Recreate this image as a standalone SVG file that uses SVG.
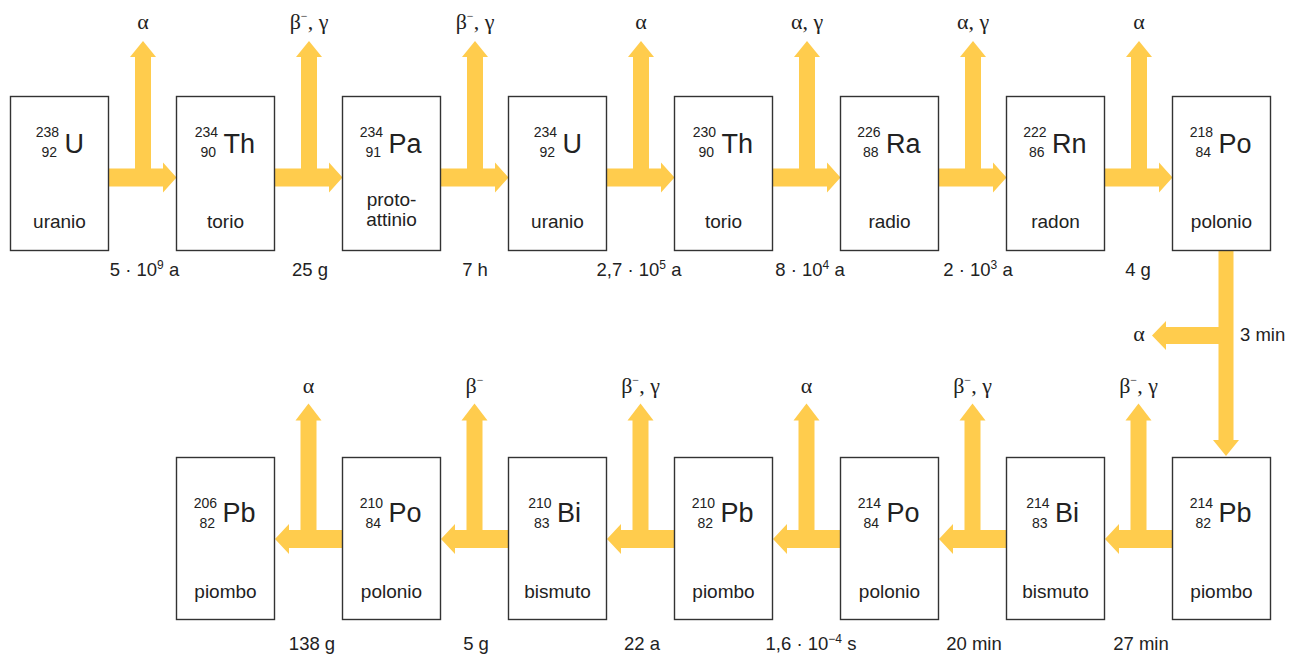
<svg xmlns="http://www.w3.org/2000/svg" xmlns:xlink="http://www.w3.org/1999/xlink" width="1290" height="656" viewBox="0 0 1290 656">
<style>
.box{fill:#fff;stroke:#333;stroke-width:1.4}
.arr{fill:#FFCC4D}
text{font-family:"Liberation Sans",Arial,sans-serif;fill:#222}
.sym{font-size:27px}
.num{font-size:14px;text-anchor:end}
.name{font-size:19px;text-anchor:middle}
.hl{font-size:18.5px;text-anchor:middle}
.gk{font-family:"Liberation Serif","Times New Roman",serif;font-size:22px;text-anchor:middle}
.sup{font-size:12px}
.supm{font-size:12px}
</style>
<defs>
<path id="tR" d="M0,168.5 H26 V57 H21 L34,41 L47,57 H42 V168.5 H54 V162.5 L67.5,177.5 L54,192.5 V186.5 H0 Z"/>
<path id="tL" d="M0.5,539 L14.5,524 V530 H26 V420.5 H21 L34,403.5 L47,420.5 H42 V530 H68 V548 H14.5 V554 Z"/>
</defs>
<g id="connectors" class="arr">
<use xlink:href="#tR" x="109"/>
<use xlink:href="#tR" x="275"/>
<use xlink:href="#tR" x="441"/>
<use xlink:href="#tR" x="607"/>
<use xlink:href="#tR" x="773"/>
<use xlink:href="#tR" x="939"/>
<use xlink:href="#tR" x="1105"/>
<path d="M1218.5,251 H1233.5 V440 H1239 L1226,456 L1213,440 H1218.5 V344 H1166 V350 L1152,335.5 L1166,321 V327 H1218.5 Z"/>
<use xlink:href="#tL" x="274.5"/>
<use xlink:href="#tL" x="440.5"/>
<use xlink:href="#tL" x="606.5"/>
<use xlink:href="#tL" x="772.5"/>
<use xlink:href="#tL" x="938.5"/>
<use xlink:href="#tL" x="1104.5"/>
</g>
<g id="labels">
<text class="gk" x="143" y="29">α</text>
<text class="gk" x="309" y="29">β<tspan class="supm" dy="-9">−</tspan><tspan dy="9">, γ</tspan></text>
<text class="gk" x="475" y="29">β<tspan class="supm" dy="-9">−</tspan><tspan dy="9">, γ</tspan></text>
<text class="gk" x="641" y="29">α</text>
<text class="gk" x="807" y="29">α, γ</text>
<text class="gk" x="973" y="29">α, γ</text>
<text class="gk" x="1139" y="29">α</text>
<text class="hl" x="144.5" y="276">5 · 10<tspan class="sup" dy="-7">9</tspan><tspan dy="7"> a</tspan></text>
<text class="hl" x="310" y="276">25 g</text>
<text class="hl" x="475" y="276">7 h</text>
<text class="hl" x="639" y="276">2,7 · 10<tspan class="sup" dy="-7">5</tspan><tspan dy="7"> a</tspan></text>
<text class="hl" x="810" y="276">8 · 10<tspan class="sup" dy="-7">4</tspan><tspan dy="7"> a</tspan></text>
<text class="hl" x="978" y="276">2 · 10<tspan class="sup" dy="-7">3</tspan><tspan dy="7"> a</tspan></text>
<text class="hl" x="1138" y="276">4 g</text>
<text class="gk" x="1139" y="341">α</text>
<text class="hl" x="1240" y="341" style="text-anchor:start">3 min</text>
<text class="gk" x="308.5" y="393">α</text>
<text class="gk" x="474.5" y="393">β<tspan class="supm" dy="-9">−</tspan></text>
<text class="gk" x="640.5" y="393">β<tspan class="supm" dy="-9">−</tspan><tspan dy="9">, γ</tspan></text>
<text class="gk" x="806.5" y="393">α</text>
<text class="gk" x="972.5" y="393">β<tspan class="supm" dy="-9">−</tspan><tspan dy="9">, γ</tspan></text>
<text class="gk" x="1138.5" y="393">β<tspan class="supm" dy="-9">−</tspan><tspan dy="9">, γ</tspan></text>
<text class="hl" x="312" y="650">138 g</text>
<text class="hl" x="476" y="650">5 g</text>
<text class="hl" x="642" y="650">22 a</text>
<text class="hl" x="811" y="650">1,6 · 10<tspan class="sup" dy="-7">−4</tspan><tspan dy="7"> s</tspan></text>
<text class="hl" x="974" y="650">20 min</text>
<text class="hl" x="1141" y="650">27 min</text>
</g>
<g id="n-U238"><rect class="box" x="10.5" y="96.5" width="98" height="154"/><text class="num" x="59" y="137">238</text><text class="num" x="57" y="156.5">92</text><text class="sym" x="64.5" y="152.7">U</text><text class="name" x="59.5" y="227.7">uranio</text></g>
<g id="n-Th234"><rect class="box" x="176.5" y="96.5" width="98" height="154"/><text class="num" x="218" y="137">234</text><text class="num" x="216" y="156.5">90</text><text class="sym" x="223.5" y="152.7">Th</text><text class="name" x="225.5" y="227.7">torio</text></g>
<g id="n-Pa234"><rect class="box" x="342.5" y="96.5" width="98" height="154"/><text class="num" x="383" y="137">234</text><text class="num" x="381" y="156.5">91</text><text class="sym" x="388.5" y="152.7">Pa</text><text class="name" x="391.5" y="206">proto-</text><text class="name" x="391.5" y="226">attinio</text></g>
<g id="n-U234"><rect class="box" x="508.5" y="96.5" width="98" height="154"/><text class="num" x="557" y="137">234</text><text class="num" x="555" y="156.5">92</text><text class="sym" x="562.5" y="152.7">U</text><text class="name" x="557.5" y="227.7">uranio</text></g>
<g id="n-Th230"><rect class="box" x="674.5" y="96.5" width="98" height="154"/><text class="num" x="716" y="137">230</text><text class="num" x="714" y="156.5">90</text><text class="sym" x="721.5" y="152.7">Th</text><text class="name" x="723.5" y="227.7">torio</text></g>
<g id="n-Ra226"><rect class="box" x="840.5" y="96.5" width="98" height="154"/><text class="num" x="880.5" y="137">226</text><text class="num" x="878.5" y="156.5">88</text><text class="sym" x="886" y="152.7">Ra</text><text class="name" x="889.5" y="227.7">radio</text></g>
<g id="n-Rn222"><rect class="box" x="1006.5" y="96.5" width="98" height="154"/><text class="num" x="1046.5" y="137">222</text><text class="num" x="1044.5" y="156.5">86</text><text class="sym" x="1052" y="152.7">Rn</text><text class="name" x="1055.5" y="227.7">radon</text></g>
<g id="n-Po218"><rect class="box" x="1172.5" y="96.5" width="98" height="154"/><text class="num" x="1213" y="137">218</text><text class="num" x="1211" y="156.5">84</text><text class="sym" x="1218.5" y="152.7">Po</text><text class="name" x="1221.5" y="227.7">polonio</text></g>
<g id="n-Pb206"><rect class="box" x="176.5" y="457.5" width="98" height="162"/><text class="num" x="217" y="507.5">206</text><text class="num" x="215" y="527.5">82</text><text class="sym" x="222.5" y="522">Pb</text><text class="name" x="225.5" y="598">piombo</text></g>
<g id="n-Po210"><rect class="box" x="342.5" y="457.5" width="98" height="162"/><text class="num" x="383" y="507.5">210</text><text class="num" x="381" y="527.5">84</text><text class="sym" x="388.5" y="522">Po</text><text class="name" x="391.5" y="598">polonio</text></g>
<g id="n-Bi210"><rect class="box" x="508.5" y="457.5" width="98" height="162"/><text class="num" x="551.5" y="507.5">210</text><text class="num" x="549.5" y="527.5">83</text><text class="sym" x="557" y="522">Bi</text><text class="name" x="557.5" y="598">bismuto</text></g>
<g id="n-Pb210"><rect class="box" x="674.5" y="457.5" width="98" height="162"/><text class="num" x="715" y="507.5">210</text><text class="num" x="713" y="527.5">82</text><text class="sym" x="720.5" y="522">Pb</text><text class="name" x="723.5" y="598">piombo</text></g>
<g id="n-Po214"><rect class="box" x="840.5" y="457.5" width="98" height="162"/><text class="num" x="881" y="507.5">214</text><text class="num" x="879" y="527.5">84</text><text class="sym" x="886.5" y="522">Po</text><text class="name" x="889.5" y="598">polonio</text></g>
<g id="n-Bi214"><rect class="box" x="1006.5" y="457.5" width="98" height="162"/><text class="num" x="1049.5" y="507.5">214</text><text class="num" x="1047.5" y="527.5">83</text><text class="sym" x="1055" y="522">Bi</text><text class="name" x="1055.5" y="598">bismuto</text></g>
<g id="n-Pb214"><rect class="box" x="1172.5" y="457.5" width="98" height="162"/><text class="num" x="1213" y="507.5">214</text><text class="num" x="1211" y="527.5">82</text><text class="sym" x="1218.5" y="522">Pb</text><text class="name" x="1221.5" y="598">piombo</text></g>
</svg>
